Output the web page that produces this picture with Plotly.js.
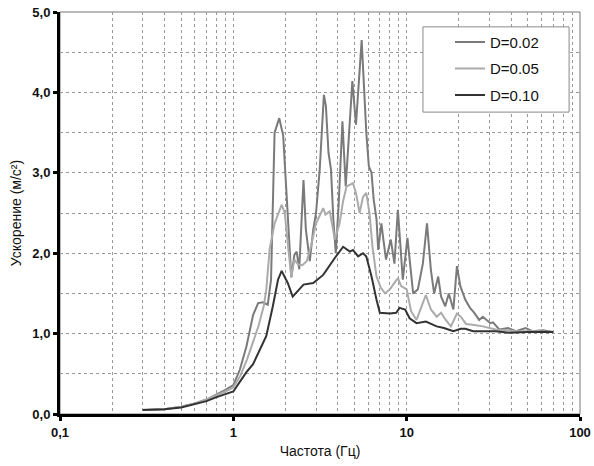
<!DOCTYPE html>
<html>
<head>
<meta charset="utf-8">
<script src="https://cdn.plot.ly/plotly-3.0.1.min.js"></script>
<style>html,body{margin:0;padding:0;background:#fff;}#chart{width:594px;height:466px;}</style>
</head>
<body>
<div id="chart"></div>
<script>
// Frequencies (Hz) and accelerations (m/s²)
const seriesNames = ["D=0.02", "D=0.05", "D=0.10"];

const freq002 = [0.30,0.35,0.40,0.50,0.60,0.70,0.80,0.90,1.00,1.09,1.19,1.30,1.39,1.48,1.58,1.65,1.73,1.84,1.94,2.03,2.10,2.16,2.25,2.32,2.40,2.54,2.62,2.76,2.89,3.00,3.15,3.33,3.42,3.54,3.66,3.78,3.90,4.05,4.26,4.45,4.86,5.10,5.50,5.85,6.05,6.27,6.45,6.70,6.85,7.15,7.30,7.60,8.10,8.50,8.90,9.50,10.1,10.9,11.6,12.4,13.1,13.8,14.4,15.2,15.8,16.7,17.5,18.6,19.5,20.4,21.8,23.2,24.5,26.2,27.5,30.4,31.5,34.3,38.5,42.7,48.5,53,61,70];
const acc002  = [0.05,0.055,0.06,0.09,0.13,0.18,0.24,0.30,0.36,0.55,0.84,1.23,1.38,1.39,1.36,1.67,3.50,3.68,3.46,2.70,2.20,1.70,1.98,2.02,1.80,2.91,2.30,1.90,2.29,2.50,3.04,3.97,3.83,3.25,3.04,2.40,2.00,2.60,3.64,2.83,4.14,3.60,4.65,3.50,3.08,3.00,2.67,2.42,2.04,2.37,2.21,1.92,2.17,1.87,2.54,1.67,2.19,1.50,1.55,1.87,2.37,1.79,1.50,1.71,1.46,1.34,1.50,1.30,1.84,1.59,1.42,1.32,1.26,1.17,1.21,1.13,1.14,1.05,1.07,1.03,1.07,1.03,1.04,1.02];

const freq005 = [0.30,0.35,0.40,0.50,0.60,0.70,0.80,0.90,1.00,1.10,1.20,1.30,1.40,1.50,1.55,1.62,1.73,1.90,1.98,2.07,2.16,2.25,2.36,2.50,2.65,2.80,3.00,3.30,3.40,3.60,3.85,4.10,4.30,4.50,4.90,5.10,5.35,5.60,5.85,6.10,6.35,6.70,7.10,7.50,8.00,8.50,8.90,9.30,10.0,10.6,11.4,12.1,12.9,13.8,14.9,15.8,16.8,18.0,19.5,20.5,22.0,24.0,27.5,32.6,38,45,55,70];
const acc005  = [0.05,0.055,0.06,0.09,0.13,0.18,0.23,0.28,0.33,0.48,0.68,0.90,1.10,1.35,1.55,2.05,2.37,2.60,2.50,2.08,1.71,1.92,1.86,1.85,1.90,2.08,2.37,2.56,2.48,2.52,2.17,2.37,2.65,2.83,2.87,2.75,2.50,2.70,2.75,2.50,2.08,1.71,1.57,1.50,1.55,1.63,1.69,1.59,1.55,1.28,1.17,1.32,1.48,1.30,1.21,1.26,1.17,1.09,1.25,1.21,1.12,1.11,1.09,1.05,1.04,1.03,1.03,1.02];

const freq010 = [0.30,0.35,0.40,0.50,0.60,0.70,0.80,0.90,1.00,1.09,1.19,1.30,1.42,1.55,1.69,1.81,1.90,2.06,2.20,2.54,2.89,3.30,3.85,4.11,4.30,4.70,4.90,5.25,5.60,5.85,6.27,6.70,7.00,8.00,8.70,9.10,9.80,10.4,11.4,12.9,14.9,16.4,18.6,20.5,21.8,24.2,32.6,38.9,50,70];
const acc010  = [0.05,0.055,0.06,0.08,0.12,0.16,0.21,0.25,0.28,0.40,0.52,0.62,0.80,0.97,1.34,1.67,1.78,1.63,1.46,1.61,1.63,1.73,1.94,2.02,2.08,2.02,2.04,1.96,2.00,1.96,1.71,1.42,1.26,1.25,1.26,1.32,1.30,1.19,1.13,1.15,1.09,1.07,1.03,1.06,1.06,1.03,1.03,1.01,1.02,1.02];

const xTickVals = [0.1, 1, 10, 100];
const xTickText = ["0,1", "1", "10", "100"];
const yTickVals = [0, 1, 2, 3, 4, 5];

const xs = [freq002, freq005, freq010];
const ys = [acc002, acc005, acc010];
const colors = ["#7a7a7a", "#ababab", "#333333"];

const traces = seriesNames.map((n, i) => ({
  x: xs[i], y: ys[i], name: n, type: "scatter", mode: "lines",
  legendgroup: "g" + i,
  line: {color: colors[i], width: 2}
}));

// minor grid positions (2..9 of each decade)
const minorX = [];
[0.1, 1, 10].forEach(d => { for (let k = 2; k <= 9; k++) minorX.push(+(d * k).toPrecision(3)); });

const font = {family: "Liberation Sans, Arial, sans-serif", color: "#111"};

const layout = {
  width: 594, height: 466,
  margin: {l: 60, r: 14, t: 12, b: 52},
  paper_bgcolor: "#fff", plot_bgcolor: "#fff",
  separators: ", ",
  font: font,
  showlegend: true,
  legend: {
    x: 0.75, y: 0.966, xanchor: "left", yanchor: "top",
    bgcolor: "rgba(0,0,0,0)", borderwidth: 0,
    font: {family: font.family, size: 15, color: "#111"},
    tracegroupgap: 4, traceorder: "grouped"
  },
  xaxis: {
    type: "log", range: [-1, 2],
    tickvals: xTickVals, ticktext: xTickText,
    tickfont: {family: font.family, size: 13, color: "#111", weight: "bold"},
    ticks: "outside", ticklen: 4, tickwidth: 3, tickcolor: "#000",
    showline: true, linewidth: 3, linecolor: "#000",
    showgrid: true, gridcolor: "#999", griddash: "dot", gridwidth: 1,
    minor: {tickvals: minorX, showgrid: true, gridcolor: "#999", griddash: "dot", gridwidth: 1, ticks: ""},
    zeroline: false,
    title: {text: "Частота (Гц)", font: {family: font.family, size: 14, color: "#111"}, standoff: 8}
  },
  yaxis: {
    range: [0, 5], tickvals: yTickVals, tickformat: ".1f",
    tickfont: {family: font.family, size: 13, color: "#111", weight: "bold"},
    ticks: "outside", ticklen: 4, tickwidth: 3, tickcolor: "#000",
    showline: true, linewidth: 3, linecolor: "#000",
    showgrid: true, gridcolor: "#999", griddash: "dot", gridwidth: 1,
    minor: {dtick: 0.5, showgrid: true, gridcolor: "#999", griddash: "dot", gridwidth: 1, ticks: ""},
    zeroline: false,
    title: {text: "Ускорение (м/с²)", font: {family: font.family, size: 14, color: "#111"}, standoff: 8}
  },
  shapes: [
    {type: "rect", xref: "paper", yref: "paper", x0: 0, x1: 1, y0: 0, y1: 1,
     line: {color: "#777", width: 1}, layer: "below"},
    {type: "rect", xref: "paper", yref: "paper", x0: 0.698, x1: 0.979, y0: 0.751, y1: 0.963,
     line: {color: "#888", width: 1}, fillcolor: "#fff", layer: "above"}
  ]
};

Plotly.newPlot("chart", traces, layout, {staticPlot: true, displayModeBar: false});
</script>
</body>
</html>
